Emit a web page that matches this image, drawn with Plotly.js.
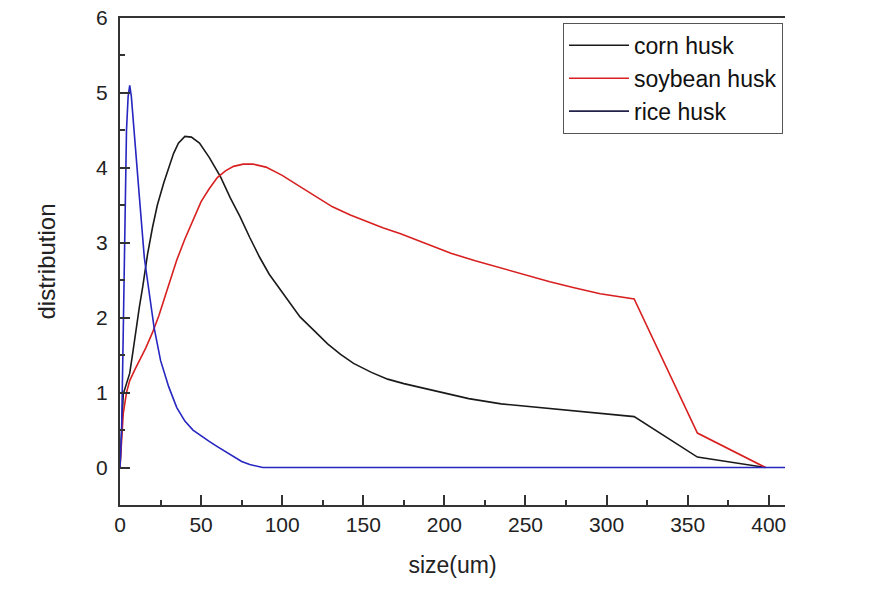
<!DOCTYPE html>
<html>
<head>
<meta charset="utf-8">
<script src="https://cdn.plot.ly/plotly-3.0.1.min.js"></script>
<style>html,body{margin:0;padding:0;background:#fff;}#chart{width:892px;height:590px;}</style>
</head>
<body>
<div id="chart"></div>
<script>
// corn husk
const cornX = [0, 1, 2, 4, 6, 8, 10, 12, 14, 17, 20, 23, 27, 30, 33, 36, 40, 44, 49, 55, 62, 68, 74, 80, 86, 92, 99, 105, 111, 120, 128, 136, 144, 155, 165, 175, 185, 200, 215, 235, 255, 275, 295, 317, 356, 398];
const cornY = [0, 0.6, 0.98, 1.12, 1.26, 1.55, 1.88, 2.15, 2.41, 2.85, 3.2, 3.5, 3.8, 4.0, 4.19, 4.33, 4.42, 4.41, 4.33, 4.14, 3.88, 3.6, 3.35, 3.07, 2.81, 2.58, 2.37, 2.18, 2.01, 1.82, 1.65, 1.51, 1.39, 1.27, 1.18, 1.12, 1.07, 0.99, 0.92, 0.85, 0.81, 0.76, 0.72, 0.68, 0.14, 0];
// soybean husk
const soyX = [0, 1, 2, 4, 6, 9, 12, 16, 20, 24, 28, 32, 35, 40, 45, 50, 55, 60, 65, 70, 76, 82, 90, 100, 111, 121, 131, 142, 152, 162, 173, 188, 204, 219, 235, 250, 265, 280, 296, 317, 356, 398];
const soyY = [0, 0.4, 0.72, 1.0, 1.16, 1.3, 1.43, 1.6, 1.8, 2.03, 2.3, 2.56, 2.77, 3.05, 3.3, 3.55, 3.72, 3.87, 3.96, 4.02, 4.05, 4.05, 4.01, 3.9, 3.75, 3.61, 3.48, 3.37, 3.28, 3.2, 3.12, 2.99, 2.86, 2.76, 2.66, 2.57, 2.48, 2.4, 2.32, 2.25, 0.46, 0];
// rice husk
const riceX = [0, 1, 2, 3, 4, 5, 6, 7, 8, 10, 12, 15, 18, 21, 25, 30, 35, 40, 45, 50, 55, 60, 65, 70, 75, 80, 85, 88, 100, 150, 200, 250, 300, 350, 400, 410];
const riceY = [0, 0.5, 1.8, 3.3, 4.5, 4.95, 5.1, 4.95, 4.7, 4.16, 3.6, 2.8, 2.3, 1.87, 1.43, 1.08, 0.8, 0.62, 0.5, 0.42, 0.35, 0.28, 0.21, 0.14, 0.08, 0.04, 0.01, 0, 0, 0, 0, 0, 0, 0, 0, 0];

const seriesNames = ['corn husk', 'soybean husk', 'rice husk'];
const xTitle = 'size(um)';
const yTitle = 'distribution';

const FONT = 'Liberation Sans, Arial, sans-serif';

const traces = [
  {x: cornX, y: cornY, name: seriesNames[0], mode: 'lines', line: {color: '#1a1a1a', width: 1.6}},
  {x: soyX, y: soyY, name: seriesNames[1], mode: 'lines', line: {color: '#d82020', width: 1.6}},
  {x: [null], y: [null], name: seriesNames[2], mode: 'lines', line: {color: '#22224a', width: 1.6}, hoverinfo: 'skip'},
  {x: riceX, y: riceY, name: seriesNames[2], mode: 'lines', line: {color: '#2626c0', width: 1.6}, showlegend: false}
];

const layout = {
  width: 892, height: 590,
  margin: {l: 120, r: 107, t: 18, b: 85},
  paper_bgcolor: '#fff', plot_bgcolor: '#fff',
  font: {family: FONT, size: 21, color: '#222'},
  showlegend: true,
  legend: {
    x: 0.997, y: 0.99, xanchor: 'right', yanchor: 'top',
    bordercolor: '#555', borderwidth: 1, bgcolor: '#fff',
    font: {family: FONT, size: 23, color: '#111'},
    itemwidth: 60, tracegroupgap: 0
  },
  xaxis: {
    range: [0, 410], dtick: 50, tick0: 0,
    ticks: 'inside', ticklen: 10, tickwidth: 2, tickcolor: '#333',
    minor: {ticks: 'inside', ticklen: 5, dtick: 25, tickwidth: 2, tickcolor: '#333'},
    showline: true, linecolor: '#333', linewidth: 2, mirror: true,
    showgrid: false, zeroline: false,
    tickfont: {family: FONT, size: 21, color: '#222'},
    title: {text: xTitle, font: {family: FONT, size: 23, color: '#222'}, standoff: 22}
  },
  yaxis: {
    range: [-0.5, 6], dtick: 1, tick0: 0,
    ticks: 'inside', ticklen: 10, tickwidth: 2, tickcolor: '#333',
    minor: {ticks: 'inside', ticklen: 5, dtick: 0.5, tickwidth: 2, tickcolor: '#333'},
    showline: true, linecolor: '#333', linewidth: 2,
    showgrid: false, zeroline: false,
    ticklabelstandoff: 6,
    tickfont: {family: FONT, size: 21, color: '#222'},
    title: {text: yTitle, font: {family: FONT, size: 24, color: '#222'}, standoff: 34}
  }
};

Plotly.newPlot('chart', traces, layout, {displayModeBar: false, staticPlot: true});
</script>
</body>
</html>
